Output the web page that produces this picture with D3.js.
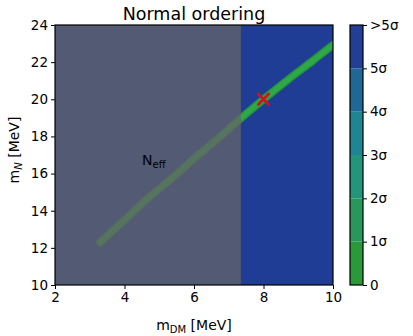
<!DOCTYPE html>
<html>
<head>
<meta charset="utf-8">
<script src="https://cdn.jsdelivr.net/npm/d3@7"></script>
<style>
  body { margin: 0; background: #fff; }
  text { font-family: "DejaVu Sans", sans-serif; fill: #000; }
</style>
</head>
<body>
<svg id="chart" width="413" height="336"></svg>
<script>
// band of allowed points (m_DM, m_N) in MeV
var bandDM = [3.3, 4.0, 4.6, 5.3, 6.0, 6.7, 7.3, 8.0, 8.7, 9.4, 10.0, 10.3];
var bandN = [12.3, 13.5, 14.55, 15.65, 16.8, 17.9, 18.9, 20.0, 21.05, 22.05, 22.92, 23.3];

// best fit point
var bestDM = [8.0];
var bestN = [20.0];

// region excluded by N_eff
var neffMax = 7.35;

var xTicks = [2, 4, 6, 8, 10];
var yTicks = [10, 12, 14, 16, 18, 20, 22, 24];
var cbTicks = ["0", "1σ", "2σ", "3σ", "4σ", "5σ", ">5σ"];
var cbColors = ["#2a9a38", "#28985a", "#23957a", "#1f8592", "#1f6796", "#213f96"];

var svg = d3.select("#chart");
var x = d3.scaleLinear().domain([2, 10]).range([55, 333]);
var y = d3.scaleLinear().domain([10, 24]).range([285, 25]);

svg.append("clipPath").attr("id", "clip")
  .append("rect").attr("x", 55).attr("y", 25).attr("width", 278).attr("height", 260);

var plot = svg.append("g").attr("clip-path", "url(#clip)");
plot.append("rect")
  .attr("x", 55).attr("y", 25).attr("width", 278).attr("height", 260)
  .attr("fill", "#203d95");

var pts = bandDM.map(function (d, i) { return [d, bandN[i]]; });
var line = d3.line().x(function (d) { return x(d[0]); }).y(function (d) { return y(d[1]); })
  .curve(d3.curveCatmullRom);

plot.append("path").attr("d", line(pts)).attr("fill", "none")
  .attr("stroke", "#25923e").attr("stroke-width", 8).attr("stroke-linecap", "round");
plot.append("path").attr("d", line(pts)).attr("fill", "none")
  .attr("stroke", "#2fa948").attr("stroke-width", 5).attr("stroke-linecap", "round");

// gray overlay for N_eff exclusion
plot.append("rect")
  .attr("x", x(2)).attr("y", 25).attr("width", x(neffMax) - x(2)).attr("height", 260)
  .attr("fill", "#646468").attr("opacity", 0.76);

// best fit marker
var mk = svg.append("g").selectAll("g").data(bestDM).join("g")
  .attr("transform", function (d, i) { return "translate(" + x(d) + "," + y(bestN[i]) + ")"; });
mk.append("path").attr("d", "M-6,-6L6,6M-6,6L6,-6")
  .attr("stroke", "#d4101a").attr("stroke-width", 2.6);

svg.append("rect")
  .attr("x", 55).attr("y", 25).attr("width", 278).attr("height", 260)
  .attr("fill", "none").attr("stroke", "#000").attr("stroke-width", 1.2);

var fs = 13.5;
var xAxis = svg.append("g").attr("transform", "translate(0,285)")
  .call(d3.axisBottom(x).tickValues(xTicks).tickSize(4).tickPadding(3));
var yAxis = svg.append("g").attr("transform", "translate(55,0)")
  .call(d3.axisLeft(y).tickValues(yTicks).tickSize(4).tickPadding(3));
[xAxis, yAxis].forEach(function (a) {
  a.select(".domain").remove();
  a.selectAll("text").attr("font-size", fs).attr("font-family", "DejaVu Sans");
  a.selectAll("line").attr("stroke", "#000");
});

// colorbar
var cb = d3.scaleLinear().domain([0, 6]).range([285, 25]);
svg.append("g").selectAll("rect").data(cbColors).join("rect")
  .attr("x", 350).attr("width", 13)
  .attr("y", function (d, i) { return cb(i + 1); })
  .attr("height", function (d, i) { return cb(i) - cb(i + 1); })
  .attr("fill", function (d) { return d; });
svg.append("rect").attr("x", 350).attr("y", 25).attr("width", 13).attr("height", 260)
  .attr("fill", "none").attr("stroke", "#000").attr("stroke-width", 1.2);
var cbAxis = svg.append("g").attr("transform", "translate(363,0)")
  .call(d3.axisRight(cb).tickValues(d3.range(7)).tickFormat(function (d) { return cbTicks[d]; })
    .tickSize(4).tickPadding(3));
cbAxis.select(".domain").remove();
cbAxis.selectAll("text").attr("font-size", fs).attr("font-family", "DejaVu Sans");

// labels
svg.append("text").attr("x", 194).attr("y", 20).attr("text-anchor", "middle")
  .attr("font-size", 17.5).text("Normal ordering");

var xl = svg.append("text").attr("x", 194).attr("y", 330).attr("text-anchor", "middle")
  .attr("font-size", 14);
xl.append("tspan").text("m");
xl.append("tspan").attr("font-size", 10).attr("dy", 3).text("DM");
xl.append("tspan").attr("dy", -3).text(" [MeV]");

var yl = svg.append("text").attr("transform", "translate(19,150) rotate(-90)")
  .attr("text-anchor", "middle").attr("font-size", 14);
yl.append("tspan").text("m");
yl.append("tspan").attr("font-size", 10).attr("dy", 3).attr("font-style", "italic").text("N");
yl.append("tspan").attr("dy", -3).text(" [MeV]");

var nl = svg.append("text").attr("x", 142).attr("y", 165).attr("font-size", 14);
nl.append("tspan").text("N");
nl.append("tspan").attr("font-size", 10).attr("dy", 3).text("eff");
</script>
</body>
</html>
